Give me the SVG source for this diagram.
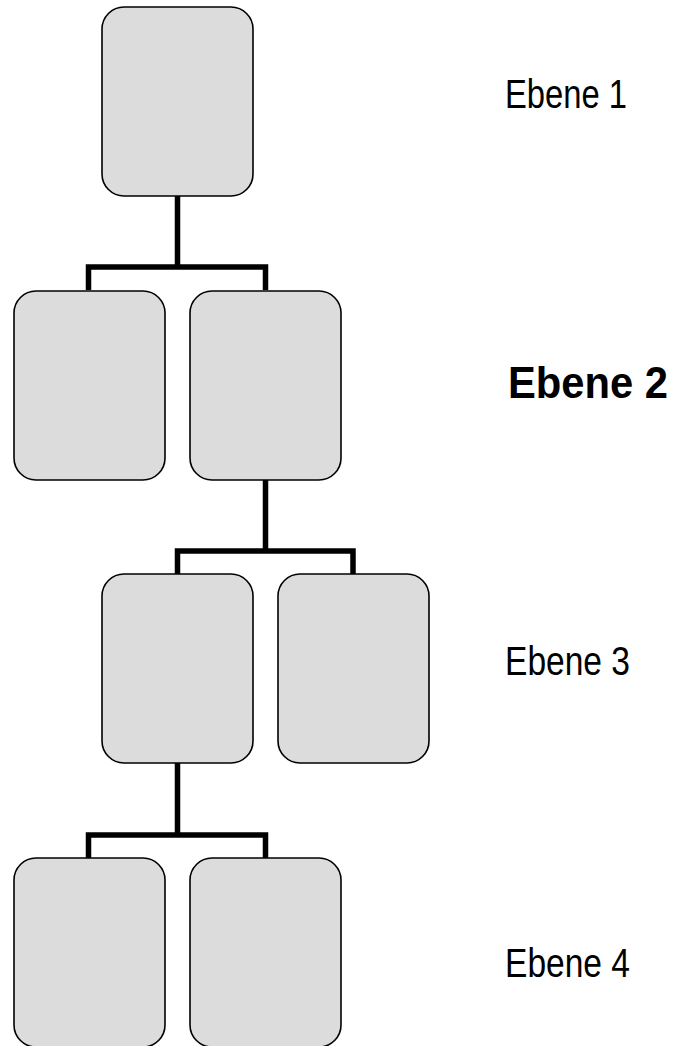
<svg xmlns="http://www.w3.org/2000/svg" width="678" height="1046" viewBox="0 0 678 1046">
<style>
.node{fill:#dcdcdc;stroke:#000;stroke-width:1.6}
.conn{fill:none;stroke:#000;stroke-width:5.5;stroke-linejoin:miter;stroke-linecap:butt}
.lbl{font-family:"Liberation Sans",Arial,sans-serif;font-size:41px;fill:#000}
.lblb{font-family:"Liberation Sans",Arial,sans-serif;font-size:44px;font-weight:bold;fill:#000}
</style>
<rect width="678" height="1046" fill="#fff"/>
<g id="connectors">
<path class="conn" d="M177.5 196 V267 M88.5 290 V267 H265.5 V290"/>
<path class="conn" d="M265.5 480 V551 M177.5 574 V551 H353 V574"/>
<path class="conn" d="M177.5 763 V835 M88.5 858 V835 H265.5 V858"/>
</g>
<g id="n1"><rect class="node" x="102" y="7" width="151" height="189" rx="22"/></g>
<g id="n2a"><rect class="node" x="14" y="291" width="151" height="189" rx="22"/></g>
<g id="n2b"><rect class="node" x="190" y="291" width="151" height="189" rx="22"/></g>
<g id="n3a"><rect class="node" x="102" y="574" width="151" height="189" rx="22"/></g>
<g id="n3b"><rect class="node" x="278" y="574" width="151" height="189" rx="22"/></g>
<g id="n4a"><rect class="node" x="14" y="858" width="151" height="189" rx="22"/></g>
<g id="n4b"><rect class="node" x="190" y="858" width="151" height="189" rx="22"/></g>
<g id="labels">
<text class="lbl" x="505" y="108" textLength="122" lengthAdjust="spacingAndGlyphs">Ebene 1</text>
<text class="lblb" x="508" y="398" textLength="160" lengthAdjust="spacingAndGlyphs">Ebene 2</text>
<text class="lbl" x="505" y="675" textLength="125" lengthAdjust="spacingAndGlyphs">Ebene 3</text>
<text class="lbl" x="505" y="977" textLength="125" lengthAdjust="spacingAndGlyphs">Ebene 4</text>
</g>
</svg>
